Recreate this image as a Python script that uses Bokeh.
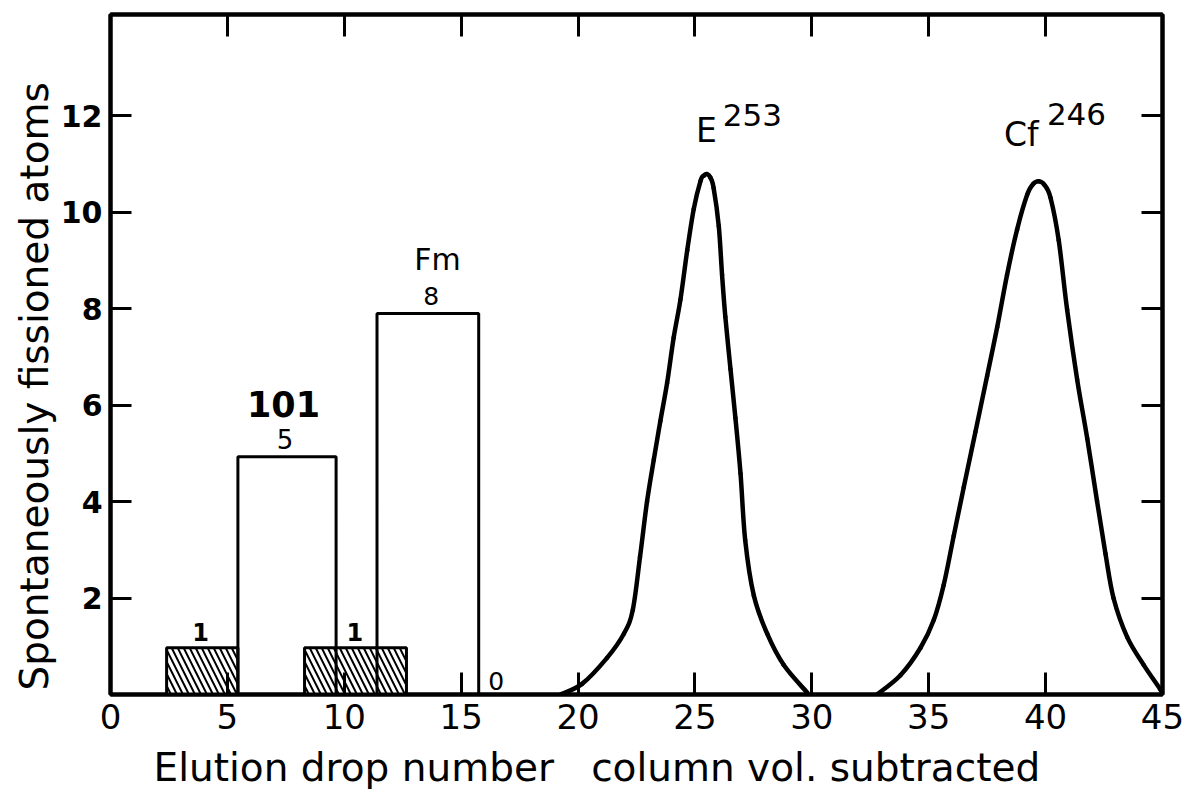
from bokeh.plotting import figure
from bokeh.models import Range1d, LinearAxis, FixedTicker, Label, Title
from bokeh.embed import file_html
from bokeh.resources import INLINE

# ---------------- data ----------------
# hatched (background) bins
hatched_left = [2.4, 8.3]
hatched_right = [5.45, 12.66]
hatched_count = [0.97, 0.97]
hatched_labels = ["1", "1"]

# open bins (element 101 and Fm)
open_left = [5.45, 11.4]
open_right = [9.65, 15.75]
open_count = [4.93, 7.9]
open_labels = ["5", "8"]

# E253 elution peak
e_x = [19.25, 20.17, 21.24, 21.96, 22.34, 22.65, 22.95, 23.24, 23.52, 23.81,
       24.09, 24.38, 24.67, 24.95, 25.24, 25.38, 25.52, 25.66, 25.80, 26.02,
       26.16, 26.30, 26.52, 26.73, 26.95, 27.15, 27.52, 28.09, 28.80, 29.80]
e_y = [0.0, 0.22, 0.76, 1.26, 1.75, 2.85, 4.0, 4.87, 5.67, 6.46,
       7.40, 8.19, 9.21, 10.07, 10.65, 10.76, 10.79, 10.72, 10.50, 9.71,
       8.70, 7.83, 6.75, 5.74, 4.58, 3.20, 2.05, 1.26, 0.61, 0.04]

# Cf246 elution peak
cf_x = [32.79, 33.79, 34.65, 35.22, 35.64, 36.07, 36.50, 37.00, 37.50, 37.93,
        38.35, 38.78, 39.21, 39.46, 39.71, 39.96, 40.21, 40.56, 40.92, 41.35,
        41.78, 42.20, 42.56, 42.91, 43.49, 44.20, 44.90, 45.0]
cf_y = [0.0, 0.40, 0.97, 1.55, 2.27, 3.29, 4.30, 5.45, 6.61, 7.62,
        8.70, 9.64, 10.36, 10.58, 10.64, 10.56, 10.30, 9.42, 7.98, 6.53,
        5.31, 4.01, 2.92, 1.99, 1.19, 0.61, 0.11, 0.0]

x_ticks = [0, 5, 10, 15, 20, 25, 30, 35, 40, 45]
x_inner_ticks = [5, 10, 15, 20, 25, 30, 35, 40]
y_ticks = [2, 4, 6, 8, 10, 12]

x_title = "Elution drop number\u00a0\u00a0\u00a0column vol. subtracted"
y_title = "Spontaneously fissioned atoms"

FONT = "DejaVu Sans"
PX_PER_Y = 680 / 14.1

p = figure(width=1190, height=804, x_range=Range1d(0, 45), y_range=Range1d(0, 14.1),
           output_backend="svg", toolbar_location=None,
           min_border_left=110, min_border_right=28, min_border_top=14, min_border_bottom=110,
           background_fill_color="white", border_fill_color="white")
p.grid.visible = False
p.outline_line_color = "black"
p.outline_line_width = 4

def style_axis(ax, ticks, labels=True, tick_in=21):
    ax.ticker = FixedTicker(ticks=ticks)
    ax.axis_line_width = 4
    ax.axis_line_color = "black"
    ax.major_tick_in = tick_in
    ax.major_tick_out = 0
    ax.major_tick_line_width = 3
    ax.minor_tick_line_color = None
    if not labels:
        ax.major_label_text_font_size = "1px"
        ax.major_label_text_color = None
        ax.major_label_standoff = 0

bx = p.xaxis[0]
style_axis(bx, x_ticks, tick_in=22)
bx.major_label_text_font = FONT
bx.major_label_text_font_size = "34px"
bx.major_label_text_color = "black"
bx.major_label_standoff = 9

ly = p.yaxis[0]
style_axis(ly, y_ticks)
ly.major_label_text_font = FONT
ly.major_label_text_font_size = "30px"
ly.major_label_text_font_style = "bold"
ly.major_label_text_color = "black"
ly.major_label_standoff = 8

top_ax = LinearAxis()
style_axis(top_ax, x_inner_ticks, labels=False, tick_in=22)
p.add_layout(top_ax, "above")
right_ax = LinearAxis()
style_axis(right_ax, y_ticks, labels=False)
p.add_layout(right_ax, "right")

# axis titles
p.add_layout(Title(text=x_title, align="left", offset=43, standoff=22,
                   text_font=FONT, text_font_size="39px", text_font_style="normal",
                   text_line_height=0.8, text_color="black"), "below")
p.add_layout(Title(text=y_title, align="left", offset=4, standoff=1,
                   text_font=FONT, text_font_size="39px", text_font_style="normal",
                   text_color="black"), "left")

# hatched bins
p.quad(left=hatched_left, right=hatched_right, bottom=0, top=hatched_count,
       fill_color="white", line_color="black", line_width=3,
       hatch_pattern="\\", hatch_color="black", hatch_weight=2, hatch_scale=12)
# open bins
p.quad(left=open_left, right=open_right, bottom=0, top=open_count,
       fill_color=None, line_color="black", line_width=3)

# peaks: smooth curve through the read points (Catmull-Rom as cubic Beziers)
def smooth_curve(xs, ys):
    n = len(xs)
    seg = dict(x0=[], y0=[], x1=[], y1=[], cx0=[], cy0=[], cx1=[], cy1=[])
    for i in range(n - 1):
        a, b = max(i - 1, 0), min(i + 2, n - 1)
        seg["x0"].append(xs[i]); seg["y0"].append(ys[i])
        seg["x1"].append(xs[i + 1]); seg["y1"].append(ys[i + 1])
        seg["cx0"].append(xs[i] + (xs[i + 1] - xs[a]) / 6)
        seg["cy0"].append(ys[i] + (ys[i + 1] - ys[a]) / 6)
        seg["cx1"].append(xs[i + 1] - (xs[b] - xs[i]) / 6)
        seg["cy1"].append(ys[i + 1] - (ys[b] - ys[i]) / 6)
    p.bezier(line_color="black", line_width=4.5, line_cap="round", **seg)

smooth_curve(e_x, e_y)
smooth_curve(cf_x, cf_y)

def lab(x, y, text, size, bold=False):
    # y is the wanted baseline; Bokeh's label box sits ~0.37em lower
    p.add_layout(Label(x=x, y=y + 0.37 * size / PX_PER_Y, text=text, text_font=FONT,
                       text_font_size=f"{size}px",
                       text_font_style="bold" if bold else "normal",
                       text_align="center", text_baseline="alphabetic",
                       text_color="black"))

# bin counts
lab(3.85, 1.12, hatched_labels[0], 24, bold=True)
lab(10.45, 1.12, hatched_labels[1], 24, bold=True)
lab(7.46, 5.10, open_labels[0], 26)
lab(13.72, 8.07, open_labels[1], 25)
lab(16.5, 0.08, "0", 25)
# element names
lab(7.40, 5.75, "101", 35, bold=True)
lab(13.99, 8.80, "Fm", 30)
lab(25.49, 11.45, "E", 33)
lab(27.46, 11.78, "253", 31)
lab(38.96, 11.35, "Cf", 33)
lab(41.32, 11.80, "246", 31)

open("out.html", "w").write(file_html(p, INLINE))
